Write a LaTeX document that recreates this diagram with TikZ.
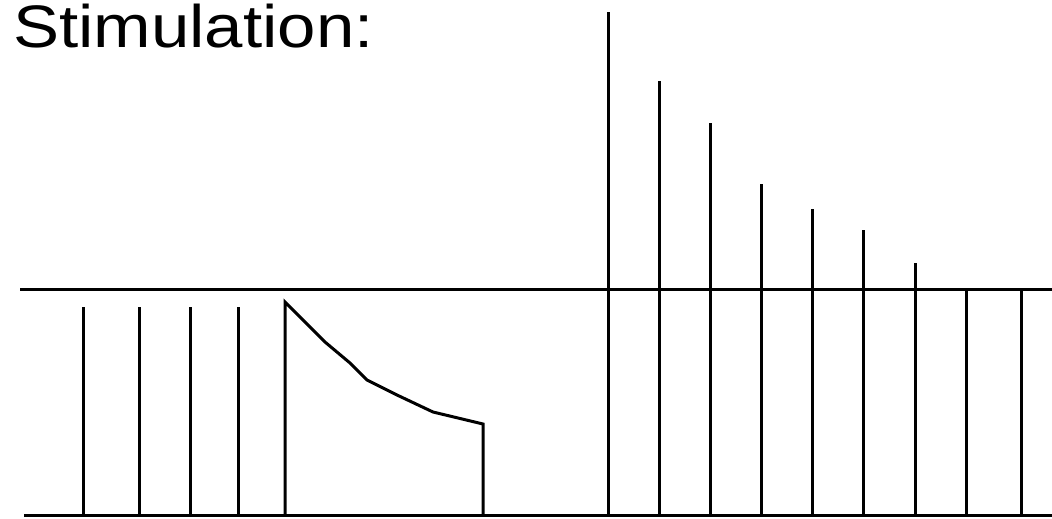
\documentclass[tikz,border=0pt]{standalone}
\usepackage{fontspec}
\setmainfont{Liberation Sans}
\begin{document}
\begin{tikzpicture}[x=1pt,y=-1pt,
  trace/.style={line width=3pt,black,line cap=butt},
  label/.style={anchor=base west,inner sep=0pt,font=\fontsize{60}{60}\selectfont,xscale=1.15}]
\useasboundingbox (0,0) rectangle (1052,519);
% title
\node[label] (title) at (13,48) {Stimulation:};
% axes
\coordinate (topL) at (20,289);
\coordinate (topR) at (1052,289);
\coordinate (botL) at (24,515);
\coordinate (botR) at (1052,515);
\draw[trace] (topL) -- (topR);
\draw[trace] (botL) -- (botR);
% left group of pulses
\foreach \x in {83,139,190,238} {
  \draw[trace] (\x,515) -- (\x,307);
}
% decaying pulse
\draw[trace,line join=miter] (285,515) -- (285,302)
  -- (300,317) -- (325,342) -- (350,363) -- (367,380) -- (397,395)
  -- (433,412) -- (483,424) -- (483,515);
% right group of pulses (decaying)
\foreach \x/\t in {608/12,659/81,710/123,761/184,812/209,863/230,915/263,966/289,1021/289} {
  \draw[trace] (\x,515) -- (\x,\t);
}
\end{tikzpicture}
\end{document}
